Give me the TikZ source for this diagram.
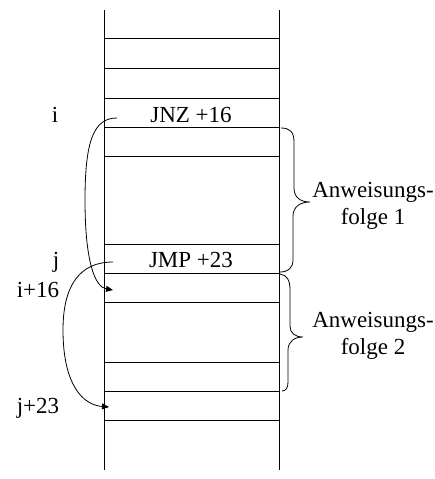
\documentclass[tikz,border=0pt]{standalone}
\usepackage{fontspec}
\setmainfont{Liberation Serif}
\usetikzlibrary{arrows.meta}
\tikzset{
  memline/.style={line width=0.8pt, black},
  txt/.style={font=\fontsize{23}{27}\selectfont, inner sep=0pt, anchor=base},
  jumparrow/.style={line width=0.8pt, -{Triangle[length=7pt,width=6pt]}},
  bracepath/.style={line width=0.8pt},
}
\begin{document}
\begin{tikzpicture}[x=1pt,y=-1pt]
\useasboundingbox (0,0) rectangle (435,479);
% memory column
\coordinate (tl) at (104,10);
\coordinate (bl) at (104,470);
\coordinate (tr) at (279,10);
\coordinate (br) at (279,470);
\draw[memline] (tl) -- (bl);
\draw[memline] (tr) -- (br);
\foreach \yy in {38,68,98,127,156,244,273,302,362,391,420}
  \draw[memline] (104,\yy) -- (279,\yy);
% cell texts
\node[txt] (jnz) at (191,122) {JNZ +16};
\node[txt] (jmp) at (191,267) {JMP +23};
% address labels
\node[txt] (li) at (55,122) {i};
\node[txt] (lj) at (56,267) {j};
\node[txt] (li16) at (38,297) {i+16};
\node[txt] (lj23) at (38,413) {j+23};
% jump arrows
\coordinate (s1) at (117,118);
\coordinate (t1) at (113,290);
\coordinate (s2) at (113,262);
\coordinate (t2) at (109,407);
\draw[jumparrow] (s1) .. controls (94,118) and (85,140) .. (85,200)
  .. controls (85,262) and (95,287) .. (t1);
\draw[jumparrow] (s2) .. controls (80,262) and (63,285) .. (63,330)
  .. controls (63,385) and (83,405) .. (t2);
% braces
\coordinate (b1a) at (281,128);
\coordinate (b1t) at (310,202);
\coordinate (b1b) at (280,272);
\draw[bracepath] (b1a) .. controls (290,128) and (294,132) .. (294,142)
  -- (294,188) .. controls (294,197) and (300,202) .. (b1t)
  .. controls (300,202) and (293,207) .. (293,216)
  -- (293,260) .. controls (293,268) and (288,272) .. (b1b);
\coordinate (b2a) at (280,274);
\coordinate (b2t) at (303,337);
\coordinate (b2b) at (282,391);
\draw[bracepath] (b2a) .. controls (287,275) and (290,280) .. (290,290)
  -- (290,326) .. controls (290,333) and (295,337) .. (b2t)
  .. controls (295,337) and (288,341) .. (288,350)
  -- (288,382) .. controls (288,388) and (286,391) .. (b2b);
% brace labels
\node[txt, align=center, anchor=center] (a1) at (373,206) {Anweisungs-\\folge 1};
\node[txt, align=center, anchor=center] (a2) at (373,336) {Anweisungs-\\folge 2};
\end{tikzpicture}
\end{document}
